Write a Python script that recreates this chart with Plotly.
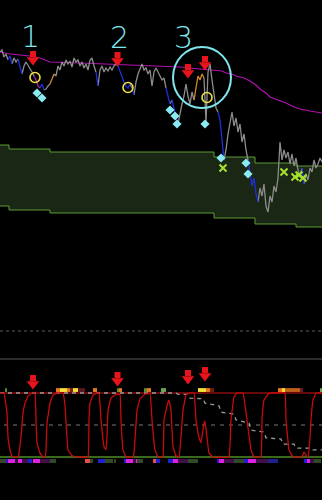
import plotly.graph_objects as go

# ---------------- data ----------------
bar_x = list(range(0, 323, 2))
price = [278, 280, 273, 276, 270, 274, 266, 272, 268, 271, 263, 256, 264, 268, 265, 262, 258, 254,
         250, 244, 242, 246, 240, 241, 244, 246, 252, 256, 254, 264, 260, 268, 264, 270, 266, 269,
         263, 272, 268, 270, 264, 268, 262, 266, 260, 270, 272, 264, 258, 244, 260, 264, 258, 262,
         259, 263, 260, 264, 266, 264, 258, 252, 248, 244, 242, 246, 242, 235, 248, 256, 262, 266,
         260, 262, 256, 260, 244, 258, 262, 258, 254, 250, 252, 242, 234, 226, 230, 220, 212, 206,
         218, 226, 234, 246, 234, 226, 238, 230, 244, 254, 250, 256, 252, 208, 258, 266, 250, 234,
         222, 218, 210, 190, 170, 180, 196, 208, 218, 204, 212, 198, 206, 188, 196, 180, 170, 158,
         144, 152, 136, 128, 142, 134, 146, 124, 118, 134, 128, 144, 138, 152, 188, 170, 180, 172,
         178, 166, 176, 164, 172, 160, 154, 162, 146, 156, 150, 162, 158, 170, 162, 166, 172, 168]
price_state = ("ggggg" "bb" "ggg" "bb" "gggggg" "mmm" "bb" "ggg" "oo" "g"
               "gggggggggggggggggggg" "b" "gggggggggg" "bbbbbb" "g" "b"
               "gggggggggggggggg" "bb" "g" "bbb" "gggggggg" "ooooo" "ggggggg"
               "bbb" "gggggggggggg" "bbbbb" "gggggggggggggggggggggg" "b" "ggggggggg")

ma_x = [0, 10, 20, 30, 40, 50, 80, 110, 140, 161, 180, 200, 222, 226, 232, 236, 244, 250,
        256, 260, 266, 270, 278, 286, 294, 300, 310, 322]
ma_y = [278, 276, 275, 274, 272, 268, 267, 266, 265, 264, 263, 261, 259, 257, 256, 254, 252,
        249, 245, 241, 237, 233, 230, 227, 223, 221, 219, 217]

band_x = [0, 9, 50, 214, 255, 296, 322]
band_top = [185, 181, 178, 173, 167, 164, 164]
band_bot = [124, 120, 117, 112, 106, 103, 103]

ring_x = [35, 128, 207]
ring_y = [252.5, 242.5, 232.5]
dia_x = [37, 42, 170, 175, 177, 205, 221, 246, 248]
dia_y = [237, 232, 220, 214, 206, 206, 172, 167, 156]
cross_x = [223, 284, 295, 299, 303]
cross_y = [162, 158, 153, 155, 152]
sig_x = [33, 117.5, 188, 205]
sig_price = [265, 264, 252, 260]
sig_osc = [106.3, 110.9, 114.1, 118.8]

label_text = ["1", "2", "3"]
label_x = [30, 119, 183]
label_y = [294, 293, 293]

osc_x = [0, 4, 7, 8, 10, 12, 18, 19, 21, 23, 25, 28, 32, 35, 36, 37, 40, 43, 45, 46, 47, 50, 53,
         57, 63, 65, 68, 72, 80, 88, 89, 90, 93, 97, 99, 101, 104, 106, 107, 108, 111, 115, 120,
         121, 123, 126, 133, 134, 137, 140, 145, 150, 152, 155, 158, 163, 164, 168, 169, 171,
         173, 176, 179, 181, 183, 186, 189, 194, 196, 199, 201, 204, 205, 207, 209, 213, 229,
         231, 234, 237, 243, 246, 251, 254, 261, 262, 264, 268, 271, 285, 286, 289, 293, 302,
         304, 306, 308, 310, 311, 313, 316, 322]
osc_y = [100, 99, 69, 31, 11, 1, 0, 6, 31, 69, 84, 95, 100, 100, 58, 22, 6, 0, 0, 11, 53, 84, 97,
         100, 100, 80, 11, 2, 0, 0, 58, 84, 97, 100, 100, 58, 16, 11, 31, 73, 92, 97, 98,
         58, 11, 0, 0, 6, 73, 91, 98, 100, 58, 11, 0, 0, 58, 86, 89, 73,
         16, 2, 0, 31, 73, 97, 100, 100, 58, 31, 22, 53, 56, 31, 6, 0, 0,
         58, 94, 100, 100, 70, 11, 0, 0, 58, 89, 98, 100, 100, 58, 11, 0, 0,
         8, 3, 0, 30, 58, 89, 100, 100]

trend_x = [0, 176, 178, 188, 190, 203, 205, 219, 221, 234, 236, 249, 251, 264, 266, 281, 283,
           294, 296, 311, 313, 322]
trend_y = [100, 100, 98, 98, 92, 91, 84, 80, 70, 67, 58, 53, 42, 39, 30, 28, 20, 20, 14, 14, 11, 11]

top_blocks = [(5, 7, "#4f8a3a"), (56, 60, "#e8781e"), (60, 67, "#f4e03a"), (67, 70, "#e8781e"),
              (70, 73, "#7a2a10"), (73, 78, "#f4e03a"), (78, 85, "#5a1820"), (93, 97, "#e8781e"),
              (117, 119, "#5a8a3a"), (119, 122, "#e8781e"), (144, 147, "#5a8a3a"),
              (147, 151, "#e8781e"), (161, 166, "#6aa84f"), (198, 206, "#f4e03a"),
              (206, 210, "#e8781e"), (210, 214, "#6a2010"), (278, 282, "#e8781e"),
              (282, 285, "#f4e03a"), (285, 300, "#c0601a"), (300, 303, "#6a1a30"),
              (320, 322, "#6aa84f")]
bot_blocks = [(0, 6, "#34452c"), (6, 8, "#2020c0"), (8, 15, "#e020e0"), (15, 18, "#301040"),
              (18, 22, "#e020e0"), (22, 28, "#401048"), (28, 32, "#2020d0"), (33, 40, "#e020e0"),
              (40, 50, "#401048"), (50, 56, "#304a28"), (85, 90, "#e05050"), (90, 93, "#304a28"),
              (98, 105, "#2020d0"), (105, 113, "#304a28"), (114, 116, "#304a28"),
              (124, 126, "#2020d0"), (126, 133, "#e020e0"), (133, 136, "#401048"),
              (136, 137, "#e020e0"), (137, 143, "#304a28"), (153, 156, "#e05050"),
              (156, 160, "#2020d0"), (168, 173, "#2020d0"), (173, 178, "#e020e0"),
              (178, 188, "#401048"), (188, 198, "#304a28"), (217, 219, "#2020d0"),
              (219, 224, "#e020e0"), (224, 234, "#401048"), (234, 244, "#304a28"),
              (244, 248, "#2020d0"), (248, 256, "#e020e0"), (256, 268, "#401048"),
              (268, 278, "#20208a"), (304, 307, "#2020d0"), (307, 310, "#e020e0"),
              (310, 314, "#401048"), (314, 321, "#304a28")]

# ---------------- styling ----------------
state_color = {"g": "#8c8c8c", "b": "#1f2fd8", "o": "#d08a28", "m": "#b020b0"}
CYAN = "#7fe6ee"
PX_PER_OSC = 0.64  # pixels per oscillator unit (layout helper)

fig = go.Figure()

# band (lower first, then upper with fill)
fig.add_trace(go.Scatter(x=band_x, y=band_bot, mode="lines", line=dict(color="#5c9a35", width=1, shape="hv"),
                         hoverinfo="skip"))
fig.add_trace(go.Scatter(x=band_x, y=band_top, mode="lines", fill="tonexty", fillcolor="#1a2714",
                         line=dict(color="#5c9a35", width=1, shape="hv"), hoverinfo="skip"))

# moving line
fig.add_trace(go.Scatter(x=ma_x, y=ma_y, mode="lines", line=dict(color="#b012b0", width=1.2)))

# price segments coloured by state
segs = {c: ([], []) for c in state_color}
for i in range(1, len(price)):
    c = price_state[i]
    xs, ys = segs[c]
    if xs and xs[-1] == bar_x[i - 1]:
        xs.append(bar_x[i]); ys.append(price[i])
    else:
        if xs:
            xs.append(None); ys.append(None)
        xs += [bar_x[i - 1], bar_x[i]]; ys += [price[i - 1], price[i]]
for c in ["g", "b", "o", "m"]:
    xs, ys = segs[c]
    fig.add_trace(go.Scatter(x=xs, y=ys, mode="lines", line=dict(color=state_color[c], width=1.3),
                             connectgaps=False))

# markers on price
fig.add_trace(go.Scatter(x=ring_x, y=ring_y, mode="markers",
                         marker=dict(symbol="circle-open", size=10, color="#f0e040", line=dict(width=1.6))))
fig.add_trace(go.Scatter(x=dia_x, y=dia_y, mode="markers",
                         marker=dict(symbol="diamond", size=7, color="#8aeaf2", line=dict(width=0))))
fig.add_trace(go.Scatter(x=cross_x, y=cross_y, mode="markers",
                         marker=dict(symbol="x-thin", size=7, color="#a6e22e", line=dict(width=2, color="#a6e22e"))))

# red arrows (head + stem), price panel (1 unit = 1 px)
fig.add_trace(go.Scatter(x=sig_x, y=[v + 5 for v in sig_price], mode="markers",
                         marker=dict(symbol="triangle-down", size=11, color="#e8141b", line=dict(width=0))))
fig.add_trace(go.Scatter(x=sig_x, y=[v + 11 for v in sig_price], mode="markers",
                         marker=dict(symbol="square", size=6, color="#e8141b", line=dict(width=0))))

# ---------------- oscillator panel ----------------
fig.add_trace(go.Bar(x=[(a + b) / 2 for a, b, _ in top_blocks], y=[6] * len(top_blocks), base=101.6,
                     width=[b - a for a, b, _ in top_blocks], marker=dict(color=[c for _, _, c in top_blocks],
                     line=dict(width=0)), yaxis="y2"))
fig.add_trace(go.Bar(x=[(a + b) / 2 for a, b, _ in bot_blocks], y=[6.3] * len(bot_blocks), base=-9.4,
                     width=[b - a for a, b, _ in bot_blocks], marker=dict(color=[c for _, _, c in bot_blocks],
                     line=dict(width=0)), yaxis="y2"))

fig.add_trace(go.Scatter(x=[0, 322], y=[100, 100], mode="lines", line=dict(color="#8a0c0c", width=1.5), yaxis="y2"))
fig.add_trace(go.Scatter(x=[4, 322], y=[50, 50], mode="lines", line=dict(color="#7a7a7a", width=1, dash="4px,5px"),
                         yaxis="y2"))
fig.add_trace(go.Scatter(x=[0, 322], y=[0, 0], mode="lines", line=dict(color="#3c6a1c", width=2), yaxis="y2"))
fig.add_trace(go.Scatter(x=trend_x, y=trend_y, mode="lines", line=dict(color="#9a9a9a", width=1.3, dash="4px,4px"),
                         yaxis="y2"))
fig.add_trace(go.Scatter(x=osc_x, y=osc_y, mode="lines", line=dict(color="#c80a0a", width=1.3, shape="spline",
                         smoothing=0.2), yaxis="y2"))

fig.add_trace(go.Scatter(x=sig_x, y=[v + 5 / PX_PER_OSC for v in sig_osc], mode="markers", yaxis="y2",
                         marker=dict(symbol="triangle-down", size=11, color="#e8141b", line=dict(width=0))))
fig.add_trace(go.Scatter(x=sig_x, y=[v + 11 / PX_PER_OSC for v in sig_osc], mode="markers", yaxis="y2",
                         marker=dict(symbol="square", size=6, color="#e8141b", line=dict(width=0))))

# hand drawn annotations
for t, x, y in zip(label_text, label_x, label_y):
    fig.add_annotation(x=x, y=y, xref="x", yref="y", text=t, showarrow=False,
                       font=dict(family="DejaVu Sans", size=30, color=CYAN, weight=300))

fig.add_shape(type="circle", xref="x", yref="y", x0=173, x1=231, y0=222, y1=283,
              line=dict(color=CYAN, width=2))
fig.add_shape(type="line", xref="paper", yref="paper", x0=0, x1=1, y0=1 - 331 / 500, y1=1 - 331 / 500,
              line=dict(color="#5a5a5a", width=1, dash="dot"))
fig.add_shape(type="line", xref="paper", yref="paper", x0=0, x1=1, y0=1 - 359 / 500, y1=1 - 359 / 500,
              line=dict(color="#2c2c2c", width=2))

fig.update_layout(
    width=322, height=500, margin=dict(l=0, r=0, t=0, b=0),
    paper_bgcolor="#000000", plot_bgcolor="#000000", showlegend=False, barmode="overlay",
    xaxis=dict(range=[0, 322], visible=False, fixedrange=True),
    yaxis=dict(domain=[0.34, 1], range=[0, 330], visible=False),
    yaxis2=dict(domain=[0, 0.28], range=[-67.19, 151.56], visible=False, anchor="x"),
)

fig.write_html("out.html")
